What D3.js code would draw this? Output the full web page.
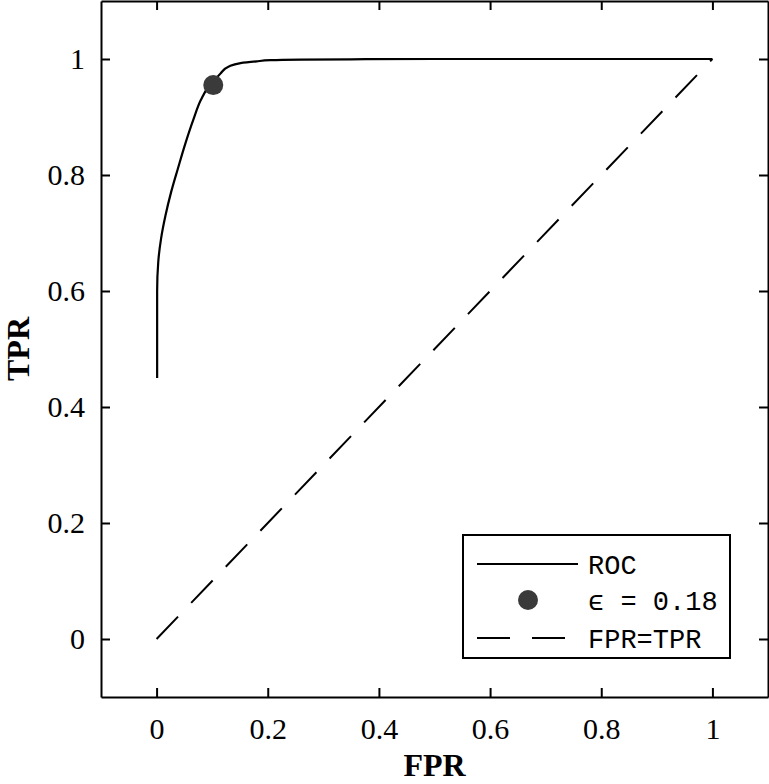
<!DOCTYPE html>
<html>
<head>
<meta charset="utf-8">
<script src="https://cdn.jsdelivr.net/npm/d3@7"></script>
<style>
    body { margin: 0; background: #fff; }
    svg { display: block; }
</style>
</head>
<body>
<div class="wrapper"></div>
<script>
let width = 769;
let height = 784;

// ROC curve points (FPR, TPR)
let rocFpr = [0.001, 0.001, 0.003, 0.008, 0.016, 0.026, 0.038, 0.052, 0.066, 0.080, 0.092, 0.102, 0.115, 0.130, 0.151, 0.180, 0.205, 0.260, 0.350, 0.500, 0.700, 1.000];
let rocTpr = [0.450, 0.600, 0.650, 0.690, 0.730, 0.770, 0.810, 0.855, 0.895, 0.930, 0.950, 0.960, 0.975, 0.987, 0.993, 0.996, 0.998, 0.999, 0.9995, 1.000, 1.000, 1.000];

let opFpr = [0.102];
let opTpr = [0.955];

let tickValues = [0, 0.2, 0.4, 0.6, 0.8, 1];
let tickLabels = ["0", "0.2", "0.4", "0.6", "0.8", "1"];
let legendLabels = ["ROC", "\u03F5 = 0.18", "FPR=TPR"];

let margin = {left: 101, right: 1, top: 1, bottom: 87};

let svg = d3.select(".wrapper")
    .append("svg")
    .attr("width", width)
    .attr("height", height);

let x = d3.scaleLinear().domain([-0.1, 1.1]).range([margin.left, width - margin.right]);
let y = d3.scaleLinear().domain([-0.1, 1.1]).range([height - margin.bottom, margin.top]);

let serif = "'Liberation Serif', 'DejaVu Serif', serif";
let mono = "'Liberation Mono', 'DejaVu Sans Mono', monospace";

// axes: bottom/left with labels, top/right mirrored without
let fmt = d => tickLabels[tickValues.indexOf(d)];
svg.append("g")
    .attr("transform", "translate(0," + y(-0.1) + ")")
    .call(d3.axisBottom(x).tickValues(tickValues).tickFormat(fmt).tickSizeInner(-9).tickSizeOuter(0).tickPadding(21));
svg.append("g")
    .attr("transform", "translate(" + x(-0.1) + ",0)")
    .call(d3.axisLeft(y).tickValues(tickValues).tickFormat(fmt).tickSizeInner(-9).tickSizeOuter(0).tickPadding(16));
svg.append("g")
    .attr("transform", "translate(0," + y(1.1) + ")")
    .call(d3.axisTop(x).tickValues(tickValues).tickFormat("").tickSizeInner(-9).tickSizeOuter(0));
svg.append("g")
    .attr("transform", "translate(" + x(1.1) + ",0)")
    .call(d3.axisRight(y).tickValues(tickValues).tickFormat("").tickSizeInner(-9).tickSizeOuter(0));

svg.selectAll(".domain").attr("stroke", "#000").attr("stroke-width", 2);
svg.selectAll(".tick line").attr("stroke", "#000").attr("stroke-width", 2);
svg.selectAll(".tick text")
    .attr("fill", "#000")
    .style("font-family", serif)
    .style("font-size", "30px");

// axis titles
svg.append("text")
    .attr("x", x(0.5))
    .attr("y", 776)
    .attr("text-anchor", "middle")
    .style("font-family", serif)
    .style("font-size", "32px")
    .style("font-weight", "bold")
    .text("FPR");
svg.append("text")
    .attr("transform", "translate(29," + y(0.5) + ") rotate(-90)")
    .attr("text-anchor", "middle")
    .style("font-family", serif)
    .style("font-size", "32px")
    .style("font-weight", "bold")
    .text("TPR");

// diagonal
svg.append("path")
    .datum([0, 1])
    .attr("d", d3.line().x(d => x(d)).y(d => y(d)))
    .attr("fill", "none")
    .attr("stroke", "#000")
    .attr("stroke-width", 2)
    .attr("stroke-dasharray", "31,19");

// ROC curve
let roc = rocFpr.map((f, i) => [f, rocTpr[i]]);
svg.append("path")
    .datum(roc)
    .attr("d", d3.line().x(d => x(d[0])).y(d => y(d[1])).curve(d3.curveMonotoneY))
    .attr("fill", "none")
    .attr("stroke", "#000")
    .attr("stroke-width", 2.2);

// operating point
svg.selectAll(".op")
    .data(opFpr)
    .enter()
    .append("circle")
    .classed("op", true)
    .attr("cx", d => x(d))
    .attr("cy", (d, i) => y(opTpr[i]))
    .attr("r", 10)
    .attr("fill", "#3a3a3a");

// legend
let legend = svg.append("g");
legend.append("rect")
    .attr("x", 463).attr("y", 535)
    .attr("width", 267).attr("height", 123)
    .attr("fill", "#fff")
    .attr("stroke", "#000")
    .attr("stroke-width", 2);

let rowY = [564, 600, 638];
legend.append("line")
    .attr("x1", 477).attr("x2", 578).attr("y1", rowY[0]).attr("y2", rowY[0])
    .attr("stroke", "#000").attr("stroke-width", 2);
legend.append("circle")
    .attr("cx", 528).attr("cy", rowY[1]).attr("r", 10)
    .attr("fill", "#3a3a3a");
legend.append("line")
    .attr("x1", 477).attr("x2", 578).attr("y1", rowY[2]).attr("y2", rowY[2])
    .attr("stroke", "#000").attr("stroke-width", 2)
    .attr("stroke-dasharray", "33,22");

legend.selectAll(".legText")
    .data(legendLabels)
    .enter()
    .append("text")
    .classed("legText", true)
    .attr("x", 588)
    .attr("y", (d, i) => rowY[i])
    .attr("dy", "0.36em")
    .style("font-family", mono)
    .style("font-size", "27px")
    .text(d => d);
</script>
</body>
</html>
